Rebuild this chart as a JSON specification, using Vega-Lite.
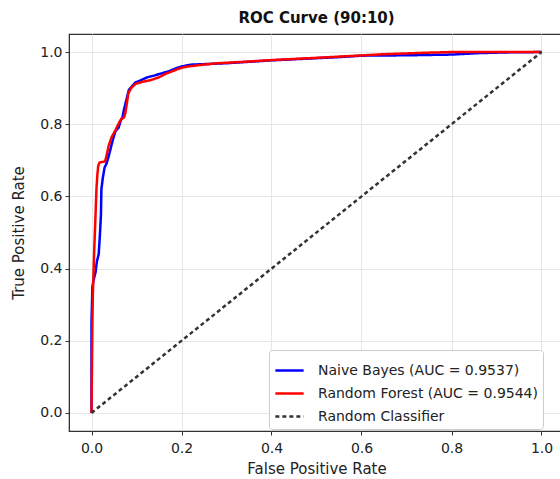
{
  "$schema": "https://vega.github.io/schema/vega-lite/v6.json",
  "autosize": "none",
  "width": 495,
  "height": 397,
  "padding": {"left": 69, "top": 34, "right": 0, "bottom": 48},
  "background": "white",
  "config": {
    "font": "DejaVu Sans",
    "view": {"stroke": "#333", "strokeWidth": 1.2},
    "axis": {
      "labelFont": "DejaVu Sans", "titleFont": "DejaVu Sans",
      "labelFontSize": 14, "titleFontSize": 15, "labelColor": "#222", "titleColor": "#222",
      "titleFontWeight": "normal", "gridColor": "#e6e6e6", "gridWidth": 1,
      "domainColor": "#333", "tickColor": "#333", "tickSize": 4, "labelPadding": 3
    }
  },
  "title": {"text": "ROC Curve (90:10)", "font": "DejaVu Sans", "fontSize": 15, "fontWeight": "bold", "color": "#111", "offset": 8},
  "data": {"values": [
    {"model": "Naive Bayes (AUC = 0.9537)", "o": 1, "fpr": 0.0, "tpr": 0.0},
    {"model": "Naive Bayes (AUC = 0.9537)", "o": 2, "fpr": 0.0, "tpr": 0.25},
    {"model": "Naive Bayes (AUC = 0.9537)", "o": 3, "fpr": 0.002, "tpr": 0.35},
    {"model": "Naive Bayes (AUC = 0.9537)", "o": 4, "fpr": 0.005, "tpr": 0.37},
    {"model": "Naive Bayes (AUC = 0.9537)", "o": 5, "fpr": 0.009, "tpr": 0.39},
    {"model": "Naive Bayes (AUC = 0.9537)", "o": 6, "fpr": 0.012, "tpr": 0.42},
    {"model": "Naive Bayes (AUC = 0.9537)", "o": 7, "fpr": 0.016, "tpr": 0.44},
    {"model": "Naive Bayes (AUC = 0.9537)", "o": 8, "fpr": 0.019, "tpr": 0.5},
    {"model": "Naive Bayes (AUC = 0.9537)", "o": 9, "fpr": 0.021, "tpr": 0.55},
    {"model": "Naive Bayes (AUC = 0.9537)", "o": 10, "fpr": 0.022, "tpr": 0.62},
    {"model": "Naive Bayes (AUC = 0.9537)", "o": 11, "fpr": 0.025, "tpr": 0.65},
    {"model": "Naive Bayes (AUC = 0.9537)", "o": 12, "fpr": 0.029, "tpr": 0.68},
    {"model": "Naive Bayes (AUC = 0.9537)", "o": 13, "fpr": 0.033, "tpr": 0.69},
    {"model": "Naive Bayes (AUC = 0.9537)", "o": 14, "fpr": 0.038, "tpr": 0.71},
    {"model": "Naive Bayes (AUC = 0.9537)", "o": 15, "fpr": 0.042, "tpr": 0.73},
    {"model": "Naive Bayes (AUC = 0.9537)", "o": 16, "fpr": 0.047, "tpr": 0.755},
    {"model": "Naive Bayes (AUC = 0.9537)", "o": 17, "fpr": 0.053, "tpr": 0.78},
    {"model": "Naive Bayes (AUC = 0.9537)", "o": 18, "fpr": 0.06, "tpr": 0.79},
    {"model": "Naive Bayes (AUC = 0.9537)", "o": 19, "fpr": 0.065, "tpr": 0.81},
    {"model": "Naive Bayes (AUC = 0.9537)", "o": 20, "fpr": 0.069, "tpr": 0.82},
    {"model": "Naive Bayes (AUC = 0.9537)", "o": 21, "fpr": 0.072, "tpr": 0.84},
    {"model": "Naive Bayes (AUC = 0.9537)", "o": 22, "fpr": 0.076, "tpr": 0.86},
    {"model": "Naive Bayes (AUC = 0.9537)", "o": 23, "fpr": 0.08, "tpr": 0.88},
    {"model": "Naive Bayes (AUC = 0.9537)", "o": 24, "fpr": 0.083, "tpr": 0.895},
    {"model": "Naive Bayes (AUC = 0.9537)", "o": 25, "fpr": 0.09, "tpr": 0.905},
    {"model": "Naive Bayes (AUC = 0.9537)", "o": 26, "fpr": 0.098, "tpr": 0.916},
    {"model": "Naive Bayes (AUC = 0.9537)", "o": 27, "fpr": 0.11, "tpr": 0.922},
    {"model": "Naive Bayes (AUC = 0.9537)", "o": 28, "fpr": 0.124, "tpr": 0.93},
    {"model": "Naive Bayes (AUC = 0.9537)", "o": 29, "fpr": 0.14, "tpr": 0.935},
    {"model": "Naive Bayes (AUC = 0.9537)", "o": 30, "fpr": 0.153, "tpr": 0.94},
    {"model": "Naive Bayes (AUC = 0.9537)", "o": 31, "fpr": 0.17, "tpr": 0.946},
    {"model": "Naive Bayes (AUC = 0.9537)", "o": 32, "fpr": 0.19, "tpr": 0.956},
    {"model": "Naive Bayes (AUC = 0.9537)", "o": 33, "fpr": 0.2, "tpr": 0.96},
    {"model": "Naive Bayes (AUC = 0.9537)", "o": 34, "fpr": 0.22, "tpr": 0.965},
    {"model": "Naive Bayes (AUC = 0.9537)", "o": 35, "fpr": 0.26, "tpr": 0.967},
    {"model": "Naive Bayes (AUC = 0.9537)", "o": 36, "fpr": 0.3, "tpr": 0.969},
    {"model": "Naive Bayes (AUC = 0.9537)", "o": 37, "fpr": 0.35, "tpr": 0.973},
    {"model": "Naive Bayes (AUC = 0.9537)", "o": 38, "fpr": 0.4, "tpr": 0.977},
    {"model": "Naive Bayes (AUC = 0.9537)", "o": 39, "fpr": 0.45, "tpr": 0.98},
    {"model": "Naive Bayes (AUC = 0.9537)", "o": 40, "fpr": 0.5, "tpr": 0.983},
    {"model": "Naive Bayes (AUC = 0.9537)", "o": 41, "fpr": 0.55, "tpr": 0.986},
    {"model": "Naive Bayes (AUC = 0.9537)", "o": 42, "fpr": 0.6, "tpr": 0.99},
    {"model": "Naive Bayes (AUC = 0.9537)", "o": 43, "fpr": 0.7, "tpr": 0.991},
    {"model": "Naive Bayes (AUC = 0.9537)", "o": 44, "fpr": 0.8, "tpr": 0.993},
    {"model": "Naive Bayes (AUC = 0.9537)", "o": 45, "fpr": 0.86, "tpr": 0.997},
    {"model": "Naive Bayes (AUC = 0.9537)", "o": 46, "fpr": 0.92, "tpr": 0.999},
    {"model": "Naive Bayes (AUC = 0.9537)", "o": 47, "fpr": 1.0, "tpr": 1.0},
    {"model": "Random Forest (AUC = 0.9544)", "o": 1, "fpr": 0.0, "tpr": 0.0},
    {"model": "Random Forest (AUC = 0.9544)", "o": 2, "fpr": 0.002, "tpr": 0.25},
    {"model": "Random Forest (AUC = 0.9544)", "o": 3, "fpr": 0.003, "tpr": 0.33},
    {"model": "Random Forest (AUC = 0.9544)", "o": 4, "fpr": 0.006, "tpr": 0.45},
    {"model": "Random Forest (AUC = 0.9544)", "o": 5, "fpr": 0.009, "tpr": 0.55},
    {"model": "Random Forest (AUC = 0.9544)", "o": 6, "fpr": 0.011, "tpr": 0.62},
    {"model": "Random Forest (AUC = 0.9544)", "o": 7, "fpr": 0.013, "tpr": 0.66},
    {"model": "Random Forest (AUC = 0.9544)", "o": 8, "fpr": 0.015, "tpr": 0.685},
    {"model": "Random Forest (AUC = 0.9544)", "o": 9, "fpr": 0.018, "tpr": 0.694},
    {"model": "Random Forest (AUC = 0.9544)", "o": 10, "fpr": 0.03, "tpr": 0.697},
    {"model": "Random Forest (AUC = 0.9544)", "o": 11, "fpr": 0.033, "tpr": 0.71},
    {"model": "Random Forest (AUC = 0.9544)", "o": 12, "fpr": 0.038, "tpr": 0.74},
    {"model": "Random Forest (AUC = 0.9544)", "o": 13, "fpr": 0.045, "tpr": 0.765},
    {"model": "Random Forest (AUC = 0.9544)", "o": 14, "fpr": 0.053, "tpr": 0.783},
    {"model": "Random Forest (AUC = 0.9544)", "o": 15, "fpr": 0.062, "tpr": 0.806},
    {"model": "Random Forest (AUC = 0.9544)", "o": 16, "fpr": 0.066, "tpr": 0.814},
    {"model": "Random Forest (AUC = 0.9544)", "o": 17, "fpr": 0.072, "tpr": 0.818},
    {"model": "Random Forest (AUC = 0.9544)", "o": 18, "fpr": 0.075, "tpr": 0.83},
    {"model": "Random Forest (AUC = 0.9544)", "o": 19, "fpr": 0.078, "tpr": 0.853},
    {"model": "Random Forest (AUC = 0.9544)", "o": 20, "fpr": 0.082, "tpr": 0.886},
    {"model": "Random Forest (AUC = 0.9544)", "o": 21, "fpr": 0.088, "tpr": 0.9},
    {"model": "Random Forest (AUC = 0.9544)", "o": 22, "fpr": 0.098, "tpr": 0.912},
    {"model": "Random Forest (AUC = 0.9544)", "o": 23, "fpr": 0.115, "tpr": 0.918},
    {"model": "Random Forest (AUC = 0.9544)", "o": 24, "fpr": 0.131, "tpr": 0.922},
    {"model": "Random Forest (AUC = 0.9544)", "o": 25, "fpr": 0.15, "tpr": 0.93},
    {"model": "Random Forest (AUC = 0.9544)", "o": 26, "fpr": 0.165, "tpr": 0.94},
    {"model": "Random Forest (AUC = 0.9544)", "o": 27, "fpr": 0.176, "tpr": 0.945},
    {"model": "Random Forest (AUC = 0.9544)", "o": 28, "fpr": 0.19, "tpr": 0.952},
    {"model": "Random Forest (AUC = 0.9544)", "o": 29, "fpr": 0.204, "tpr": 0.958},
    {"model": "Random Forest (AUC = 0.9544)", "o": 30, "fpr": 0.24, "tpr": 0.964},
    {"model": "Random Forest (AUC = 0.9544)", "o": 31, "fpr": 0.28, "tpr": 0.969},
    {"model": "Random Forest (AUC = 0.9544)", "o": 32, "fpr": 0.34, "tpr": 0.973},
    {"model": "Random Forest (AUC = 0.9544)", "o": 33, "fpr": 0.404, "tpr": 0.978},
    {"model": "Random Forest (AUC = 0.9544)", "o": 34, "fpr": 0.5, "tpr": 0.984},
    {"model": "Random Forest (AUC = 0.9544)", "o": 35, "fpr": 0.576, "tpr": 0.989},
    {"model": "Random Forest (AUC = 0.9544)", "o": 36, "fpr": 0.65, "tpr": 0.994},
    {"model": "Random Forest (AUC = 0.9544)", "o": 37, "fpr": 0.74, "tpr": 0.998},
    {"model": "Random Forest (AUC = 0.9544)", "o": 38, "fpr": 0.8, "tpr": 1.0},
    {"model": "Random Forest (AUC = 0.9544)", "o": 39, "fpr": 1.0, "tpr": 1.0},
    {"model": "Random Classifier", "o": 1, "fpr": 0.0, "tpr": 0.0},
    {"model": "Random Classifier", "o": 2, "fpr": 1.0, "tpr": 1.0}
  ]},
  "mark": {"type": "line", "clip": true, "strokeCap": "butt"},
  "encoding": {
    "x": {"field": "fpr", "type": "quantitative", "title": "False Positive Rate",
      "scale": {"domain": [-0.05, 1.05], "nice": false, "zero": false},
      "axis": {"values": [0, 0.2, 0.4, 0.6, 0.8, 1.0], "format": ".1f", "labelPadding": 6, "titlePadding": 6}},
    "y": {"field": "tpr", "type": "quantitative", "title": "True Positive Rate",
      "scale": {"domain": [-0.05, 1.05], "nice": false, "zero": false},
      "axis": {"values": [0, 0.2, 0.4, 0.6, 0.8, 1.0], "format": ".1f", "titlePadding": 13}},
    "order": {"field": "o", "type": "quantitative"},
    "color": {"field": "model", "type": "nominal", "title": null,
      "scale": {"domain": ["Naive Bayes (AUC = 0.9537)", "Random Forest (AUC = 0.9544)", "Random Classifier"], "range": ["#0000ff", "#ff0000", "#333333"]},
      "legend": {"orient": "none", "legendX": 200, "legendY": 316, "symbolType": "stroke", "symbolSize": 800,
        "symbolStrokeWidth": 2.5, "labelFontSize": 14, "labelFont": "DejaVu Sans", "labelColor": "#222",
        "labelOffset": 13, "rowPadding": -1, "padding": 5, "strokeColor": "#ccc", "fillColor": "white", "cornerRadius": 3, "labelLimit": 300}},
    "strokeDash": {"field": "model", "type": "nominal", "title": null,
      "scale": {"domain": ["Naive Bayes (AUC = 0.9537)", "Random Forest (AUC = 0.9544)", "Random Classifier"], "range": [[1, 0], [1, 0], [4, 3]]}},
    "strokeWidth": {"field": "model", "type": "nominal", "title": null,
      "scale": {"domain": ["Naive Bayes (AUC = 0.9537)", "Random Forest (AUC = 0.9544)", "Random Classifier"], "range": [2.5, 2.5, 1.3]}}
  }
}
